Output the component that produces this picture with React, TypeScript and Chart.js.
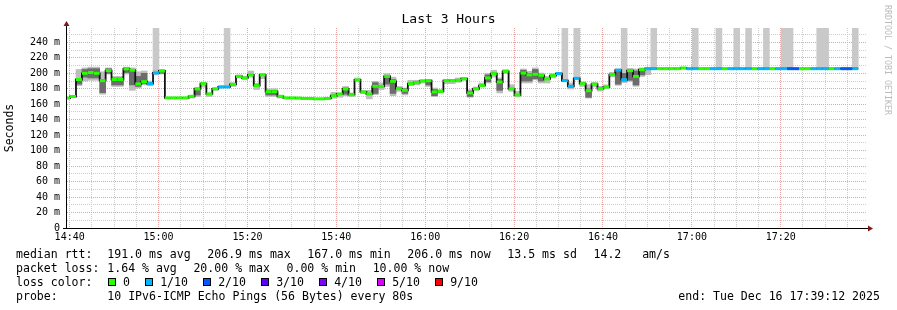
import React, { useEffect, useRef } from "react";
import { Chart, registerables } from "chart.js";

Chart.register(...registerables);

const MONO = "'DejaVu Sans Mono', monospace";

// time axis (minutes of the day)
const X_MIN = 879.4;
const X_MAX = 1059.4;
const STEP_MIN = 80 / 60;
const FIRST_STEP_START = 878.757;
const Y_MAX = 258.6;

const timeLabels = ["14:40", "15:00", "15:20", "15:40", "16:00", "16:20", "16:40", "17:00", "17:20"];
const yLabels = ["0", "20 m", "40 m", "60 m", "80 m", "100 m", "120 m", "140 m", "160 m", "180 m", "200 m", "220 m", "240 m"];

// median rtt (ms) per 80 s step
const median = [
  168, 170, 192, 200, 201, 200, 190.5, 203.5, 192, 192,
  205.7, 204, 186.3, 189.3, 186.7, 200.5, 203, 168.2, 168.2, 168.2,
  168.2, 170.3, 179.8, 186.7, 173.3, 180, 182.4, 182.4, 185.7, 196,
  194, 198, 184, 198, 176.3, 176.3, 170.3, 168.2, 168.2, 168,
  167.5, 167.5, 167.0, 167.0, 167.5, 171, 173.3, 179.7, 172.4, 191.4,
  175.9, 173.3, 183.2, 183, 196, 189.7, 180.2, 178, 186.6, 188,
  190, 190.5, 176, 176.7, 190.5, 190.5, 191, 193, 174.6, 180,
  184, 194, 199.6, 188.8, 202.6, 180, 172, 200.4, 198, 198.7,
  197.4, 192.7, 197, 199.6, 190.5, 183.2, 193.5, 186.6, 177.6, 186,
  180.2, 182.3, 198.3, 204, 191.8, 203.4, 196, 204.7, 206, 206,
  206, 206, 206, 206, 206.9, 206, 206, 206, 206, 206,
  206, 206, 206, 206, 206, 206, 206, 206, 206, 206,
  206, 206, 206, 206, 206, 206, 206, 206, 206, 206,
  206, 206, 206, 206,
];

// lost pings (out of 10) per step
const lossTenths = [
  0, 0, 0, 0, 0, 0, 0, 0, 0, 0,
  0, 0, 0, 0, 1, 1, 0, 0, 0, 0,
  0, 0, 0, 0, 0, 0, 1, 1, 0, 0,
  0, 0, 0, 0, 0, 0, 0, 0, 0, 0,
  0, 0, 0, 0, 0, 0, 0, 0, 0, 0,
  0, 0, 0, 0, 0, 0, 0, 0, 0, 0,
  0, 0, 0, 0, 0, 0, 0, 0, 0, 0,
  0, 0, 0, 0, 0, 0, 0, 0, 0, 0,
  0, 0, 0, 1, 1, 1, 1, 0, 0, 0,
  0, 0, 0, 1, 1, 0, 0, 0, 1, 1,
  0, 0, 0, 0, 0, 1, 1, 0, 0, 1,
  1, 0, 1, 1, 1, 1, 0, 1, 1, 0,
  1, 1, 2, 2, 0, 0, 1, 1, 1, 0,
  1, 2, 2, 1,
];

// smoke: spread of the 10 pings per step
const smokeLo = [
  null, null, 184, 190, 191, 191, 173, 199, 183, 183,
  199, 178, 181, 185, 184, 198, 199, null, null, null,
  null, 168, 170, 182, 170, 178, 181, null, 183, 194,
  192, 195, 179, 193, 170, 170, 168, null, null, null,
  null, null, null, null, null, 167.7, 169, 171, 170, 189.7,
  173.7, 167, 172.4, 179, 183, 171, 176.7, 172, 184, 185,
  187.5, 183, 170, 174.6, 186.6, 186.6, 188.4, 191, 169, 178,
  183, 187.5, 195, 174.6, 199.6, 176.7, 169.4, 187.5, 187.5, 191.8,
  187.5, 187.5, 194, 197.8, null, 179.7, null, 183, 168, 182.3,
  177, 180.2, 195.3, 184.5, 188, 189.6, 183.2, 196, 198.3, null,
];
const smokeHi = [
  null, null, 205, 207, 208, 208, 202, 207, 196, 196,
  208, 207, 202, 203, 190, 204, 205, null, null, null,
  null, 171, 182, 188, 175, 181, 184, null, 188, 198,
  196, 203, 187, 200, 180, 180, 171, null, null, null,
  null, null, null, null, null, 175.4, 174.6, 183, 174.6, 194,
  178, 178, 189.7, 187.5, 199.6, 195, 183, 181, 191, 191,
  192, 192, 181, 179, 192, 192, 194, 194, 179, 182.3,
  187.5, 200, 204, 194, 204.7, 185.3, 176.7, 205.6, 202.6, 207,
  200.4, 196, 199.6, 201.3, null, 187.5, null, 189, 185.3, 188.4,
  183.2, 185, 201.3, 206, 200, 206.5, 205.6, 207, 207, null,
];

// dense core of the smoke
const coreSteps = [2, 3, 4, 5, 6, 7, 8, 9, 10, 11, 12, 13, 16, 22, 34, 35, 47, 52, 54, 55, 57, 61, 62, 68, 71, 73, 77, 78, 79, 80, 88, 93, 94, 95, 96, 97];
const coreLo = [186, 195, 194, 194, 175, 200, 185, 185, 201, 185, 183, 187, 200, 172, 172, 172, 173, 174, 186, 174, 174, 185, 171, 170, 189, 178, 190, 190, 193, 190, 169, 186, 190, 191, 185, 198];
const coreHi = [192, 205, 206, 206, 192, 206, 194, 194, 207, 203, 196, 200, 204, 180, 178, 178, 181, 188, 197, 192, 180, 191, 179, 177, 198, 192, 204, 200, 205, 198, 180, 204, 200, 204, 203, 205];

// steps whose smoke runs off the top of the graph
const offscaleSteps = [15, 27, 84, 86, 94, 99, 106, 110, 113, 115, 118, 121, 122, 127, 128, 133];

const LOSS_COLORS = ["#26ff00", "#00b8ff", "#0059ff", "#5e00ff", "#7e00ff", "#dd00ff", "#ff0000", "#ff0000", "#ff0000", "#ff0000", "#ff0000"];
const legendItems = [
  { label: "0", color: "#26ff00" },
  { label: "1/10", color: "#00b8ff" },
  { label: "2/10", color: "#0059ff" },
  { label: "3/10", color: "#5e00ff" },
  { label: "4/10", color: "#7e00ff" },
  { label: "5/10", color: "#dd00ff" },
  { label: "9/10", color: "#ff0000" },
];
const rttFields = ["191.0 ms avg", "206.9 ms max", "167.0 ms min", "206.0 ms now", "13.5 ms sd", "14.2   am/s"];
const lossFields = ["1.64 % avg", "20.00 % max", "0.00 % min", "10.00 % now"];
const probeText = "10 IPv6-ICMP Echo Pings (56 Bytes) every 80s";
const endText = "end: Tue Dec 16 17:39:12 2025";

const stepStart = (k: number) => FIRST_STEP_START + k * STEP_MIN;
const stepCenter = (k: number) => stepStart(k) + STEP_MIN / 2;

const RED_GRID = "#e9a3a3";
const GRAY_GRID = "#cdcdcd";

const axesPlugin = {
  id: "rrdAxes",
  afterDraw(chart: any) {
    const { ctx, chartArea: a } = chart;
    ctx.save();
    ctx.strokeStyle = "#000";
    ctx.lineWidth = 1;
    ctx.beginPath();
    ctx.moveTo(a.left - 0.5, a.bottom + 1);
    ctx.lineTo(a.left - 0.5, a.top - 3);
    ctx.stroke();
    ctx.beginPath();
    ctx.moveTo(a.left - 4, a.bottom + 0.5);
    ctx.lineTo(a.right + 2, a.bottom + 0.5);
    ctx.stroke();
    ctx.fillStyle = "#801818";
    ctx.beginPath();
    ctx.moveTo(a.left - 3.5, a.top - 2);
    ctx.lineTo(a.left + 2.5, a.top - 2);
    ctx.lineTo(a.left - 0.5, a.top - 7);
    ctx.closePath();
    ctx.fill();
    ctx.beginPath();
    ctx.moveTo(a.right + 1, a.bottom - 2.5);
    ctx.lineTo(a.right + 1, a.bottom + 3.5);
    ctx.lineTo(a.right + 6, a.bottom + 0.5);
    ctx.closePath();
    ctx.fill();
    ctx.restore();
  },
};

export default function App() {
  const ref = useRef<HTMLCanvasElement>(null);

  useEffect(() => {
    const medianPath = median.flatMap((m, k) => [
      { x: stepStart(k), y: m },
      { x: stepStart(k) + STEP_MIN, y: m },
    ]);
    const smokeData = smokeLo
      .map((lo, k) => (lo == null || smokeHi[k] == null ? null : { x: stepCenter(k), y: [lo, smokeHi[k]] }))
      .filter((d) => d !== null);
    const coreData = coreSteps.map((k, i) => ({ x: stepCenter(k), y: [coreLo[i], coreHi[i]] }));
    const offscaleData = offscaleSteps.map((k) => ({ x: stepCenter(k), y: [median[k], Y_MAX] }));

    const xTicks: number[] = [];
    for (let v = 880; v <= X_MAX; v += 5) xTicks.push(v);
    const yTicks: number[] = [];
    for (let v = 0; v <= Y_MAX; v += 10) yTicks.push(v);

    const barCommon = {
      type: "bar" as const,
      grouped: false,
      barPercentage: 1,
      categoryPercentage: 1,
      borderWidth: 0,
      borderSkipped: false,
      clip: 0,
    };

    const chart = new Chart(ref.current as HTMLCanvasElement, {
      type: "bar",
      data: {
        datasets: [
          {
            type: "line",
            label: "median",
            data: medianPath as any,
            borderWidth: 3,
            borderCapStyle: "butt",
            pointRadius: 0,
            tension: 0,
            clip: 0,
            order: 0,
            segment: {
              borderColor: (c: any) =>
                c.p0DataIndex % 2 === 1 ? "rgba(0,0,0,0)" : LOSS_COLORS[lossTenths[c.p0DataIndex >> 1]],
            },
          } as any,
          {
            type: "line",
            label: "median-trace",
            data: medianPath as any,
            borderColor: "#111",
            borderWidth: 1.8,
            pointRadius: 0,
            tension: 0,
            clip: 0,
            order: 1,
          } as any,
          { ...barCommon, label: "core", data: coreData as any, backgroundColor: "#6c6c6c", order: 2 } as any,
          { ...barCommon, label: "smoke", data: smokeData as any, backgroundColor: "#bdbdbd", order: 3 } as any,
          { ...barCommon, label: "offscale", data: offscaleData as any, backgroundColor: "#c9c9c9", order: 4 } as any,
        ],
      },
      options: {
        animation: false,
        responsive: false,
        devicePixelRatio: 1,
        layout: { padding: 0 },
        plugins: {
          legend: { display: false },
          tooltip: { enabled: false },
          title: {
            display: true,
            text: "Last 3 Hours",
            color: "#000",
            font: { family: MONO, size: 13, weight: "normal", lineHeight: 1.2 },
            padding: { top: 12.2, bottom: 0.2 },
          },
        },
        scales: {
          x: {
            type: "linear",
            min: X_MIN,
            max: X_MAX,
            offset: false,
            afterFit: (s: any) => {
              s.height = 82;
            },
            afterBuildTicks: (s: any) => {
              s.ticks = xTicks.map((v) => ({ value: v }));
            },
            ticks: {
              autoSkip: false,
              maxRotation: 0,
              minRotation: 0,
              padding: 3,
              color: "#000",
              font: { family: MONO, size: 10 },
              callback: (v: any) => {
                const n = Number(v);
                return (n - 880) % 20 === 0 ? timeLabels[(n - 880) / 20] ?? "" : "";
              },
            },
            grid: {
              offset: false,
              drawTicks: false,
              lineWidth: 1,
              color: (c: any) => (c.tick && (c.tick.value - 880) % 20 === 0 ? RED_GRID : GRAY_GRID),
            },
            border: { display: false, dash: [1, 1] },
          },
          y: {
            type: "linear",
            position: "left",
            min: 0,
            max: Y_MAX,
            afterFit: (s: any) => {
              s.width = 67;
            },
            afterBuildTicks: (s: any) => {
              s.ticks = yTicks.map((v) => ({ value: v }));
            },
            ticks: {
              autoSkip: false,
              padding: 7,
              color: "#000",
              font: { family: MONO, size: 10 },
              callback: (v: any) => {
                const n = Number(v);
                return n % 20 === 0 ? yLabels[n / 20] ?? "" : "";
              },
            },
            grid: {
              drawTicks: false,
              lineWidth: 1,
              color: (c: any) => (c.tick && c.tick.value % 20 === 0 ? RED_GRID : GRAY_GRID),
            },
            border: { display: false, dash: [1, 1] },
            title: {
              display: true,
              text: "Seconds",
              color: "#000",
              font: { family: MONO, size: 11.5, lineHeight: 1.2 },
              padding: { top: 3.5, bottom: 0 },
            },
          },
          yRight: {
            type: "linear",
            position: "right",
            display: true,
            grid: { display: false },
            ticks: { display: false },
            border: { display: false },
            afterFit: (s: any) => {
              s.width = 30;
            },
          },
        },
      } as any,
      plugins: [axesPlugin],
    });
    return () => chart.destroy();
  }, []);

  const textStyle: React.CSSProperties = {
    fontFamily: MONO,
    fontSize: "11.55px",
    lineHeight: "14px",
    whiteSpace: "pre",
    color: "#000",
  };
  const labelCol: React.CSSProperties = { display: "inline-block", width: 91.3 };
  const row: React.CSSProperties = { display: "flex", alignItems: "center", height: 14 };

  return (
    <div style={{ position: "absolute", left: 0, top: 0, width: 897, height: 310, background: "#fff", overflow: "hidden" }}>
      <canvas ref={ref} width={897} height={310} style={{ position: "absolute", left: 0, top: 0 }} />
      <div style={{ ...textStyle, position: "absolute", left: 16, top: 247 }}>
        <div style={row}>
          <span style={labelCol}>median rtt:</span>
          {rttFields.map((f, i) => (
            <span key={i} style={{ marginLeft: i === 0 ? 0 : 16.6 }}>{f}</span>
          ))}
        </div>
        <div style={row}>
          <span style={labelCol}>packet loss:</span>
          {lossFields.map((f, i) => (
            <span key={i} style={{ marginLeft: i === 0 ? 0 : 16.6 }}>{f}</span>
          ))}
        </div>
        <div style={row}>
          <span style={labelCol}>loss color:</span>
          {legendItems.map((it, i) => (
            <React.Fragment key={i}>
              <span
                style={{
                  display: "inline-block",
                  width: 6,
                  height: 6,
                  border: "1px solid #000",
                  background: it.color,
                  marginLeft: i === 0 ? 1 : 15.5,
                  marginRight: 6.7,
                }}
              />
              <span>{it.label}</span>
            </React.Fragment>
          ))}
        </div>
        <div style={row}>
          <span style={labelCol}>probe:</span>
          <span>{probeText}</span>
        </div>
      </div>
      <div style={{ ...textStyle, position: "absolute", left: 678.3, top: 289 }}>{endText}</div>
      <div
        style={{
          position: "absolute",
          left: 884,
          top: 5,
          writingMode: "vertical-rl",
          fontFamily: MONO,
          fontSize: "8.3px",
          lineHeight: "8px",
          color: "#bbbbbb",
          whiteSpace: "pre",
        }}
      >
        RRDTOOL / TOBI OETIKER
      </div>
    </div>
  );
}
